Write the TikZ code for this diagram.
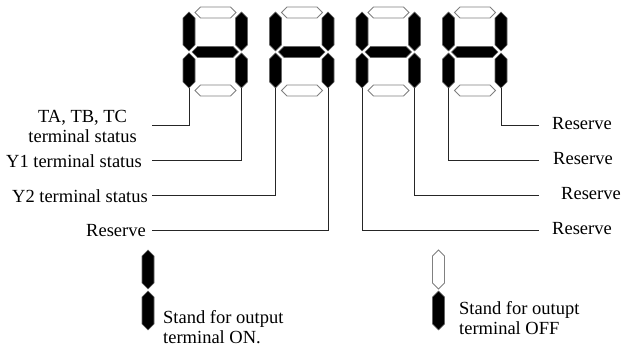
\documentclass[tikz,border=0pt]{standalone}
\usepackage{fontspec}
\setmainfont{Liberation Serif}
\usetikzlibrary{positioning}

% one display segment: vertical (x, top, bottom) and horizontal (left, right, y)
\newcommand{\vseg}[4]{\filldraw[#4] (#1,#2) -- ++(6,6) -- (#1+6,#3-6) -- (#1,#3)
  -- (#1-6,#3-6) -- (#1-6,#2+6) -- cycle;}
\newcommand{\hseg}[4]{\filldraw[#4] (#1,#3) -- ++(5.5,-5.5) -- (#2-5.5,#3-5.5) -- (#2,#3)
  -- (#2-5.5,#3+5.5) -- (#1+5.5,#3+5.5) -- cycle;}

\begin{document}
\begin{tikzpicture}[
  x=1pt, y=-1pt,
  font=\fontsize{18.5}{20}\selectfont,
  segon/.style={fill=black, draw=black!60, line width=0.6pt},
  segoff/.style={fill=white, draw=black!50, line width=0.8pt},
  lead/.style={draw=black!85, line width=1pt},
  lbl/.style={inner sep=0pt}
]
\useasboundingbox (0,0) rectangle (624,347);

% the four digits
\foreach \n/\xl in {1/189, 2/275.5, 3/362, 4/448.5} {
  \hseg{\xl+6}{\xl+47}{12.5}{segoff}
  \vseg{\xl}{12}{51}{segon}
  \vseg{\xl+52.5}{12}{51}{segon}
  \hseg{\xl+3}{\xl+49.5}{52}{segon}
  \vseg{\xl}{53}{88}{segon}
  \vseg{\xl+52.5}{53}{88}{segon}
  \hseg{\xl+6}{\xl+47}{90.5}{segoff}
  \coordinate (d\n l) at (\xl,88);
  \coordinate (d\n r) at (\xl+52.5,88);
}

% left side -- terminal status
\coordinate (tabcend) at (152,126);
\coordinate (yaend) at (152,161);
\coordinate (ybend) at (152,196);
\coordinate (resend) at (152,231);
\node[lbl, align=center, left=15pt of tabcend] (tabc) {TA, TB, TC\\terminal status};
\node[lbl, left=10pt of yaend] (ya) {Y1 terminal status};
\node[lbl, left=4pt of ybend] (yb) {Y2 terminal status};
\node[lbl, left=6pt of resend] (res) {Reserve};

% right side -- reserved bits
\coordinate (raend) at (539,126);
\coordinate (rbend) at (539,161);
\coordinate (rcend) at (539,196);
\coordinate (rdend) at (539,231);
\node[lbl, right=13pt of raend, yshift=2pt] (ra) {Reserve};
\node[lbl, right=14pt of rbend, yshift=2pt] (rb) {Reserve};
\node[lbl, right=22pt of rcend, yshift=2pt] (rc) {Reserve};
\node[lbl, right=13pt of rdend, yshift=2pt] (rd) {Reserve};

\draw[lead] (d1l) |- (tabcend);
\draw[lead] (d1r) |- (yaend);
\draw[lead] (d2l) |- (ybend);
\draw[lead] (d2r) |- (resend);
\draw[lead] (d4r) |- (raend);
\draw[lead] (d4l) |- (rbend);
\draw[lead] (d3r) |- (rcend);
\draw[lead] (d3l) |- (rdend);

% legend
\vseg{148}{250}{289}{segon}
\vseg{148}{291}{330}{segon}
\vseg{438.5}{250}{289}{segoff}
\vseg{438.5}{291}{330}{segon}
\node[lbl, align=left, anchor=north west] (onnote) at (163,310) {Stand for output\\terminal ON.};
\node[lbl, align=left, anchor=north west] (offnote) at (459,301.5) {Stand for outupt\\terminal OFF};
\end{tikzpicture}
\end{document}
